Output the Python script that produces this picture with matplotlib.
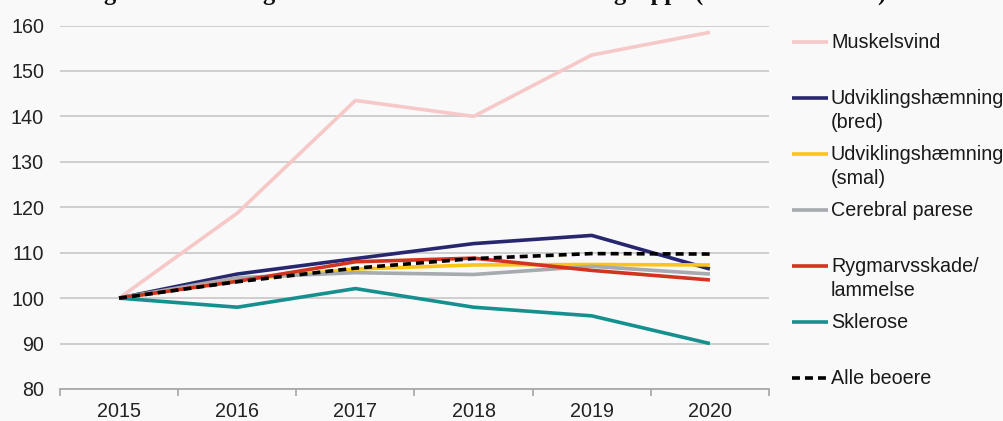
import matplotlib
matplotlib.use('Agg')
import matplotlib.pyplot as plt
from matplotlib.lines import Line2D
from matplotlib.ticker import FixedLocator

# ---- data ----
years = ['2015', '2016', '2017', '2018', '2019', '2020']
muskelsvind = [100, 118.7, 143.5, 140.0, 153.5, 158.5]
udv_bred = [100, 105.3, 108.7, 112.0, 113.8, 106.4]
udv_smal = [100, 104.0, 106.4, 107.3, 107.4, 107.3]
cerebral = [100, 104.5, 105.6, 105.2, 107.0, 105.3]
rygmarv = [100, 103.7, 108.0, 108.8, 106.1, 104.0]
sklerose = [100, 98.0, 102.1, 98.0, 96.1, 90.0]
alle = [100, 103.6, 106.6, 108.7, 109.8, 109.7]

labels = ['Muskelsvind', 'Udviklingshæmning\n(bred)', 'Udviklingshæmning\n(smal)',
          'Cerebral parese', 'Rygmarvsskade/\nlammelse', 'Sklerose', 'Alle beoere']
yticks = [80, 90, 100, 110, 120, 130, 140, 150, 160]
title = 'Figur 2. Udvikling i antal beboere fordelt efter målgruppe (indeks 2015=100)'

series = [muskelsvind, udv_bred, udv_smal, cerebral, rygmarv, sklerose, alle]
colors = ['#f6c8c8', '#27266f', '#fcc419', '#a7aaae', '#d2341f', '#16908f', '#000000']
styles = ['-', '-', '-', '-', '-', '-', '--']

plt.rcParams['font.family'] = ['Liberation Sans', 'DejaVu Sans']
W, H = 1004, 421
fig = plt.figure(figsize=(W / 100, H / 100), dpi=100)
bg = '#f9f9f9'
fig.patch.set_facecolor(bg)
FS = 14.2

ax = fig.add_axes([60 / W, 1 - 389 / H, 709 / W, (389 - 25.5) / H])
ax.set_facecolor(bg)
x = list(range(len(years)))
lw = 2.6
for s, c, ls, lab in zip(series, colors, styles, labels):
    kw = dict(dashes=(2.2, 1.4)) if ls == '--' else {}
    ax.plot(x, s, color=c, lw=lw, linestyle=ls, label=lab, solid_capstyle='butt', **kw)

ax.set_xlim(-0.5, len(years) - 0.5)
ax.set_ylim(80, 160)
ax.set_yticks(yticks)
ax.set_xticks(x)
ax.set_xticklabels(years)
ax.xaxis.set_minor_locator(FixedLocator([i - 0.5 for i in range(len(years) + 1)]))
ax.tick_params(axis='x', which='major', length=0, pad=9.5, labelsize=FS, labelcolor='#222222')
ax.tick_params(axis='x', which='minor', length=5, width=1.2, color='#a6a6a6')
ax.tick_params(axis='y', length=0, pad=11.5, labelsize=FS, labelcolor='#222222')
ax.grid(axis='y', color='#c3c3c3', lw=1.1)
ax.set_axisbelow(True)
for sp in ['top', 'right', 'left']:
    ax.spines[sp].set_visible(False)
ax.spines['bottom'].set_color('#a6a6a6')
ax.spines['bottom'].set_linewidth(1.2)

# ---- legend (manual, to match layout) ----
for i, (lab, c, ls) in enumerate(zip(labels, colors, styles)):
    yp = 42 + 56 * i
    kw = dict(dashes=(2.2, 1.4)) if ls == '--' else {}
    fig.add_artist(Line2D([792 / W, 828 / W], [1 - yp / H, 1 - yp / H],
                          transform=fig.transFigure, color=c, lw=lw, linestyle=ls,
                          solid_capstyle='butt', **kw))
    for j, part in enumerate(lab.split('\n')):
        fig.text(831 / W, 1 - (yp + 24 * j) / H, part, ha='left', va='center',
                 fontsize=FS, color='#1a1a1a')

# ---- title, cut off at the top edge as in the reference ----
t = fig.text(82 / W, 1 - 5 / H, title, ha='left', va='bottom',
             fontfamily='Liberation Serif', fontweight='bold', fontsize=16, color='#111111')
fig.canvas.draw()
bb = t.get_window_extent()
t.set_fontsize(16 * (893 - 82) / bb.width)

fig.savefig('out.png', dpi=100, facecolor=bg)
